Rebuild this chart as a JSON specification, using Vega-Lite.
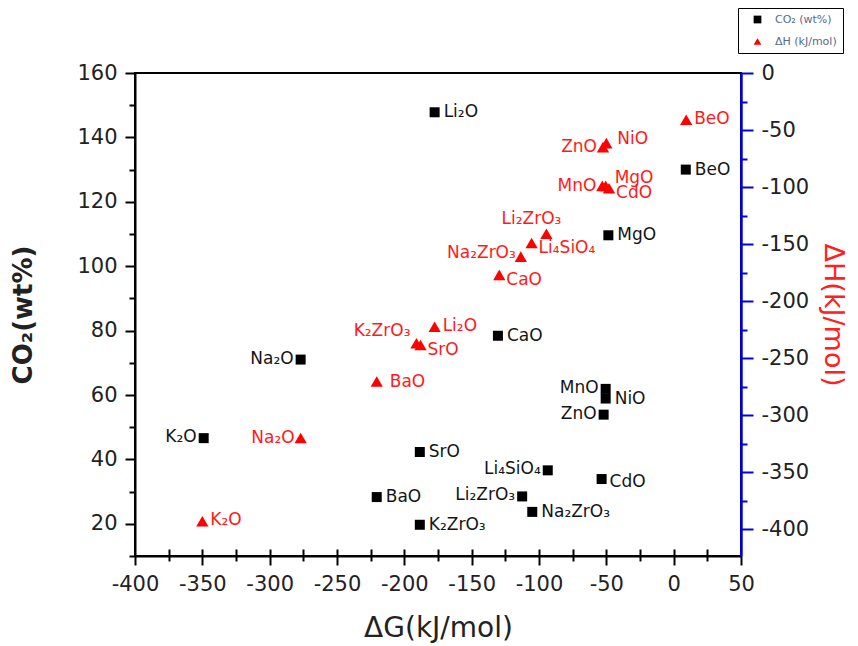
{
  "$schema": "https://vega.github.io/schema/vega-lite/v6.json",
  "width": 606,
  "height": 483,
  "autosize": {"type": "none"},
  "padding": {"left": 135, "top": 73, "right": 117, "bottom": 90},
  "background": "white",
  "config": {
    "view": {"stroke": "black", "strokeWidth": 2},
    "font": "DejaVu Sans",
    "axis": {"grid": false, "labelFont": "DejaVu Sans", "titleFont": "DejaVu Sans", "labelOverlap": false, "labelFlush": false},
    "legend": {
      "orient": "none", "legendX": 603, "legendY": -65,
      "strokeColor": "black", "fillColor": "white", "padding": 6,
      "symbolSize": 60, "labelFontSize": 11, "labelColor": "#5a6a8a",
      "rowPadding": 10, "symbolOffset": 8, "labelOffset": 12, "symbolStrokeWidth": 0
    }
  },
  "data": {
    "values": [
      {"compound": "Li₂O", "series": "CO₂ (wt%)", "dG": -177.5, "value": 147.8},
      {"compound": "BeO", "series": "CO₂ (wt%)", "dG": 9, "value": 130},
      {"compound": "MgO", "series": "CO₂ (wt%)", "dG": -48.5, "value": 109.6},
      {"compound": "CaO", "series": "CO₂ (wt%)", "dG": -130.5, "value": 78.4},
      {"compound": "Na₂O", "series": "CO₂ (wt%)", "dG": -277, "value": 71},
      {"compound": "MnO", "series": "CO₂ (wt%)", "dG": -50.5, "value": 61.9},
      {"compound": "NiO", "series": "CO₂ (wt%)", "dG": -50.5, "value": 58.9},
      {"compound": "ZnO", "series": "CO₂ (wt%)", "dG": -52, "value": 53.9},
      {"compound": "K₂O", "series": "CO₂ (wt%)", "dG": -349, "value": 46.6},
      {"compound": "SrO", "series": "CO₂ (wt%)", "dG": -188.5, "value": 42.3},
      {"compound": "Li₄SiO₄", "series": "CO₂ (wt%)", "dG": -93.5, "value": 36.6},
      {"compound": "CdO", "series": "CO₂ (wt%)", "dG": -53.5, "value": 33.9},
      {"compound": "BaO", "series": "CO₂ (wt%)", "dG": -220.5, "value": 28.3},
      {"compound": "Li₂ZrO₃", "series": "CO₂ (wt%)", "dG": -112.5, "value": 28.5},
      {"compound": "Na₂ZrO₃", "series": "CO₂ (wt%)", "dG": -105, "value": 23.7},
      {"compound": "K₂ZrO₃", "series": "CO₂ (wt%)", "dG": -188.5, "value": 19.7},
      {"compound": "BeO", "series": "ΔH (kJ/mol)", "dG": 9.3, "value": -41},
      {"compound": "ZnO", "series": "ΔH (kJ/mol)", "dG": -52.5, "value": -65},
      {"compound": "NiO", "series": "ΔH (kJ/mol)", "dG": -50, "value": -61.5},
      {"compound": "MnO", "series": "ΔH (kJ/mol)", "dG": -53, "value": -99},
      {"compound": "MgO", "series": "ΔH (kJ/mol)", "dG": -50.5, "value": -99},
      {"compound": "CdO", "series": "ΔH (kJ/mol)", "dG": -48, "value": -101},
      {"compound": "Li₂ZrO₃", "series": "ΔH (kJ/mol)", "dG": -94.5, "value": -141},
      {"compound": "Li₄SiO₄", "series": "ΔH (kJ/mol)", "dG": -105.5, "value": -149},
      {"compound": "Na₂ZrO₃", "series": "ΔH (kJ/mol)", "dG": -113.5, "value": -161},
      {"compound": "CaO", "series": "ΔH (kJ/mol)", "dG": -129.5, "value": -177},
      {"compound": "Li₂O", "series": "ΔH (kJ/mol)", "dG": -177.5, "value": -222.5},
      {"compound": "K₂ZrO₃", "series": "ΔH (kJ/mol)", "dG": -191, "value": -237},
      {"compound": "SrO", "series": "ΔH (kJ/mol)", "dG": -188, "value": -238.5},
      {"compound": "BaO", "series": "ΔH (kJ/mol)", "dG": -220.5, "value": -270.5},
      {"compound": "Na₂O", "series": "ΔH (kJ/mol)", "dG": -277, "value": -320},
      {"compound": "K₂O", "series": "ΔH (kJ/mol)", "dG": -350, "value": -393}
    ]
  },
  "layer": [
    {
      "transform": [{"filter": {"field": "series", "equal": "CO₂ (wt%)"}}],
      "encoding": {
        "x": {
          "field": "dG", "type": "quantitative",
          "scale": {"domain": [-400, 50], "nice": false, "zero": false},
          "axis": {
            "orient": "bottom",
            "values": [-400,-375,-350,-325,-300,-275,-250,-225,-200,-175,-150,-125,-100,-75,-50,-25,0,25,50],
            "labelExpr": "datum.value % 50 === 0 ? '' + datum.value : ''",
            "tickSize": {"condition": {"test": "datum.value % 50 === 0", "value": 9}, "value": 5},
            "tickColor": "black", "tickWidth": 2,
            "domainColor": "black", "domainWidth": 2,
            "labelFontSize": 21, "labelColor": "#222222", "labelPadding": 8,
            "title": "ΔG(kJ/mol)", "titleFontSize": 28, "titleFontWeight": "normal", "titleColor": "#222222", "titlePadding": 20
          }
        },
        "y": {
          "field": "value", "type": "quantitative",
          "scale": {"domain": [10, 160], "nice": false, "zero": false},
          "axis": {
            "orient": "left",
            "values": [10,20,30,40,50,60,70,80,90,100,110,120,130,140,150,160],
            "labelExpr": "datum.value % 20 === 0 ? '' + datum.value : ''",
            "tickSize": {"condition": {"test": "datum.value % 20 === 0", "value": 10}, "value": 6},
            "tickColor": "black", "tickWidth": 2,
            "domainColor": "black", "domainWidth": 2,
            "labelFontSize": 21, "labelColor": "#222222", "labelPadding": 8,
            "title": "CO₂(wt%)", "titleFontSize": 26, "titleFontWeight": "bold", "titleColor": "#222222", "titlePadding": 40
          }
        }
      },
      "layer": [
        {
          "mark": {"type": "point", "filled": true, "size": 100, "opacity": 1},
          "encoding": {
            "color": {"field": "series", "type": "nominal", "title": null, "scale": {"domain": ["CO₂ (wt%)", "ΔH (kJ/mol)"], "range": ["#000000", "#ff0000"]}},
            "shape": {"field": "series", "type": "nominal", "title": null, "scale": {"domain": ["CO₂ (wt%)", "ΔH (kJ/mol)"], "range": ["square", "triangle-up"]}}
          }
        },
        {
          "transform": [{"filter": {"field": "compound", "oneOf": ["Li₂O", "BeO", "MgO", "CaO", "SrO", "BaO", "K₂ZrO₃", "Na₂ZrO₃", "NiO"]}}],
          "mark": {"type": "text", "align": "left", "baseline": "middle", "dx": 9, "dy": 0, "fontSize": 17, "color": "#151515"},
          "encoding": {"text": {"field": "compound"}}
        },
        {
          "transform": [{"filter": {"field": "compound", "oneOf": ["CdO"]}}],
          "mark": {"type": "text", "align": "left", "baseline": "middle", "dx": 8, "dy": 3, "fontSize": 17, "color": "#151515"},
          "encoding": {"text": {"field": "compound"}}
        },
        {
          "transform": [{"filter": {"field": "compound", "oneOf": ["Na₂O", "K₂O", "ZnO", "MnO", "Li₄SiO₄", "Li₂ZrO₃"]}}],
          "mark": {"type": "text", "align": "right", "baseline": "middle", "dx": -7, "dy": -1, "fontSize": 17, "color": "#151515"},
          "encoding": {"text": {"field": "compound"}}
        }
      ]
    },
    {
      "transform": [{"filter": {"field": "series", "equal": "ΔH (kJ/mol)"}}],
      "encoding": {
        "x": {
          "field": "dG", "type": "quantitative",
          "scale": {"domain": [-400, 50], "nice": false, "zero": false},
          "axis": {
            "orient": "top",
            "values": [-375,-350,-325,-300,-275,-250,-225,-200,-175,-150,-125,-100,-75,-50,-25,0,25],
            "ticks": false,
            "labels": false,
            "domain": false,
            "grid": true,
            "gridColor": "black", "gridWidth": 2, "gridOpacity": 1, "gridDash": [7, 1000],
            "title": null
          }
        },
        "y": {
          "field": "value", "type": "quantitative",
          "scale": {"domain": [-423.5, 0], "nice": false, "zero": false},
          "axis": {
            "orient": "right",
            "values": [-400,-375,-350,-325,-300,-275,-250,-225,-200,-175,-150,-125,-100,-75,-50,-25,0],
            "labelExpr": "datum.value % 50 === 0 ? '' + datum.value : ''",
            "tickSize": {"condition": {"test": "datum.value % 50 === 0", "value": 12}, "value": 6},
            "tickColor": "#0000ee", "tickWidth": 2,
            "domainColor": "#0000ee", "domainWidth": 2.5,
            "labelFontSize": 21, "labelColor": "#222222", "labelPadding": 8,
            "title": "ΔH(kJ/mol)", "titleFontSize": 27, "titleFontWeight": "normal", "titleColor": "#ff2020", "titlePadding": 10
          }
        }
      },
      "layer": [
        {
          "mark": {"type": "point", "filled": true, "size": 150, "opacity": 1},
          "encoding": {
            "color": {"field": "series", "type": "nominal", "title": null, "scale": {"domain": ["CO₂ (wt%)", "ΔH (kJ/mol)"], "range": ["#000000", "#ff0000"]}},
            "shape": {"field": "series", "type": "nominal", "title": null, "scale": {"domain": ["CO₂ (wt%)", "ΔH (kJ/mol)"], "range": ["square", "triangle-up"]}}
          }
        },
        {
          "transform": [{"filter": {"field": "compound", "oneOf": ["BeO", "Li₂O", "K₂O"]}}],
          "mark": {"type": "text", "align": "left", "baseline": "middle", "dx": 8, "dy": -1, "fontSize": 17, "color": "#ff1a1a"},
          "encoding": {"text": {"field": "compound"}}
        },
        {
          "transform": [{"filter": {"field": "compound", "oneOf": ["BaO"]}}],
          "mark": {"type": "text", "align": "left", "baseline": "middle", "dx": 13, "dy": 0, "fontSize": 17, "color": "#ff1a1a"},
          "encoding": {"text": {"field": "compound"}}
        },
        {
          "transform": [{"filter": {"field": "compound", "oneOf": ["NiO"]}}],
          "mark": {"type": "text", "align": "left", "baseline": "middle", "dx": 11, "dy": -4, "fontSize": 17, "color": "#ff1a1a"},
          "encoding": {"text": {"field": "compound"}}
        },
        {
          "transform": [{"filter": {"field": "compound", "oneOf": ["MgO"]}}],
          "mark": {"type": "text", "align": "left", "baseline": "middle", "dx": 9, "dy": -8, "fontSize": 17, "color": "#ff1a1a"},
          "encoding": {"text": {"field": "compound"}}
        },
        {
          "transform": [{"filter": {"field": "compound", "oneOf": ["CdO", "Li₄SiO₄", "CaO", "SrO"]}}],
          "mark": {"type": "text", "align": "left", "baseline": "middle", "dx": 7, "dy": 5, "fontSize": 17, "color": "#ff1a1a"},
          "encoding": {"text": {"field": "compound"}}
        },
        {
          "transform": [{"filter": {"field": "compound", "oneOf": ["ZnO", "MnO", "Na₂O"]}}],
          "mark": {"type": "text", "align": "right", "baseline": "middle", "dx": -6, "dy": 0, "fontSize": 17, "color": "#ff1a1a"},
          "encoding": {"text": {"field": "compound"}}
        },
        {
          "transform": [{"filter": {"field": "compound", "oneOf": ["Na₂ZrO₃"]}}],
          "mark": {"type": "text", "align": "right", "baseline": "middle", "dx": -5, "dy": -4, "fontSize": 17, "color": "#ff1a1a"},
          "encoding": {"text": {"field": "compound"}}
        },
        {
          "transform": [{"filter": {"field": "compound", "oneOf": ["K₂ZrO₃"]}}],
          "mark": {"type": "text", "align": "right", "baseline": "middle", "dx": -6, "dy": -12, "fontSize": 17, "color": "#ff1a1a"},
          "encoding": {"text": {"field": "compound"}}
        },
        {
          "transform": [{"filter": {"field": "compound", "oneOf": ["Li₂ZrO₃"]}}],
          "mark": {"type": "text", "align": "center", "baseline": "middle", "dx": -15, "dy": -15, "fontSize": 17, "color": "#ff1a1a"},
          "encoding": {"text": {"field": "compound"}}
        }
      ]
    }
  ],
  "resolve": {"scale": {"x": "independent", "y": "independent"}, "axis": {"x": "independent", "y": "independent"}}
}
